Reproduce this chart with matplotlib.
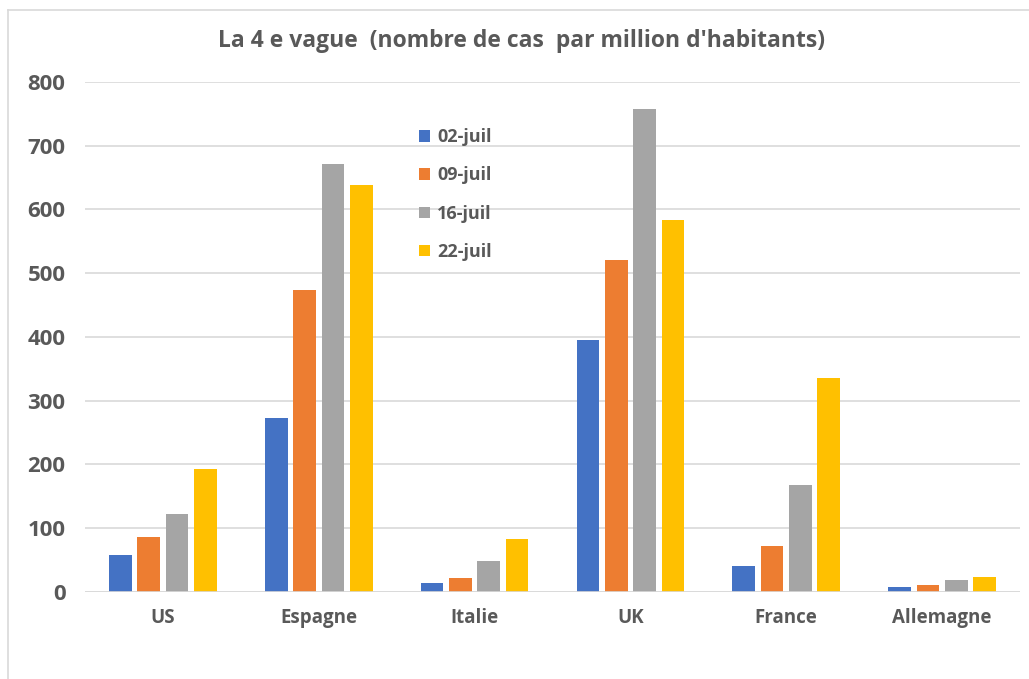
import matplotlib
matplotlib.use("Agg")
import matplotlib.pyplot as plt
import numpy as np
from matplotlib.patches import Patch
from matplotlib.lines import Line2D

categories = ["US", "Espagne", "Italie", "UK", "France", "Allemagne"]
series_labels = ["02-juil", "09-juil", "16-juil", "22-juil"]
s_0207 = [57, 272, 13, 395, 41, 8]
s_0907 = [86, 473, 22, 520, 71, 10]
s_1607 = [122, 672, 48, 757, 167, 18]
s_2207 = [192, 639, 82, 584, 335, 23]
yticks = [0, 100, 200, 300, 400, 500, 600, 700, 800]
title = "La 4 e vague  (nombre de cas  par million d'habitants)"

colors = ["#4472C4", "#ED7D31", "#A5A5A5", "#FFC000"]
txt = "#595959"
plt.rcParams['font.family'] = ['Open Sans', 'DejaVu Sans']

fig = plt.figure(figsize=(10.29, 6.79), dpi=100)
ax = fig.add_axes([85/1029, 1-591.7/679, (1020-85)/1029, (591.7-82)/679])

series = [s_0207, s_0907, s_1607, s_2207]
x = np.arange(len(categories))
step = 0.182
width = 0.145
for i, (vals, c, lab) in enumerate(zip(series, colors, series_labels)):
    ax.bar(x + (i - 1.5) * step, vals, width=width, color=c, label=lab, zorder=3)

ax.set_xlim(-0.5, len(categories) - 0.5)
ax.set_ylim(0, 800)
ax.set_yticks(yticks)
ax.set_yticklabels([str(v) for v in yticks], fontsize=16, fontweight='bold', color=txt)
ax.set_xticks(x)
ax.set_xticklabels(categories, fontsize=13.5, fontweight='bold', color=txt)
ax.tick_params(axis='both', length=0)
ax.tick_params(axis='y', pad=14)
ax.tick_params(axis='x', pad=12)
ax.grid(axis='y', color='#D9D9D9', linewidth=1.2, zorder=0)
for s in ax.spines.values():
    s.set_visible(False)
ax.axhline(0, color='#D9D9D9', linewidth=1.2, zorder=4)

fig.text(521/1029, 1-41/679, title, ha='center', va='center', fontsize=16.5,
         fontweight='bold', color=txt)

handles = [Patch(facecolor=c, edgecolor='none') for c in colors]
leg = ax.legend(handles, series_labels, loc='upper left',
                bbox_to_anchor=((403-85)/935, (591.7-112)/509.7),
                frameon=False, handlelength=0.6, handleheight=0.6,
                handletextpad=0.4, labelspacing=1.12, prop={'size': 13, 'weight': 'bold'})
for t in leg.get_texts():
    t.set_color(txt)

# outer border
fig.add_artist(Line2D([8/1029, 8/1029], [0, 1-10/679], transform=fig.transFigure, color='#D9D9D9', linewidth=1.2))
fig.add_artist(Line2D([8/1029, 1], [1-10/679, 1-10/679], transform=fig.transFigure, color='#D9D9D9', linewidth=1.2))

fig.savefig("out.png", dpi=100)
